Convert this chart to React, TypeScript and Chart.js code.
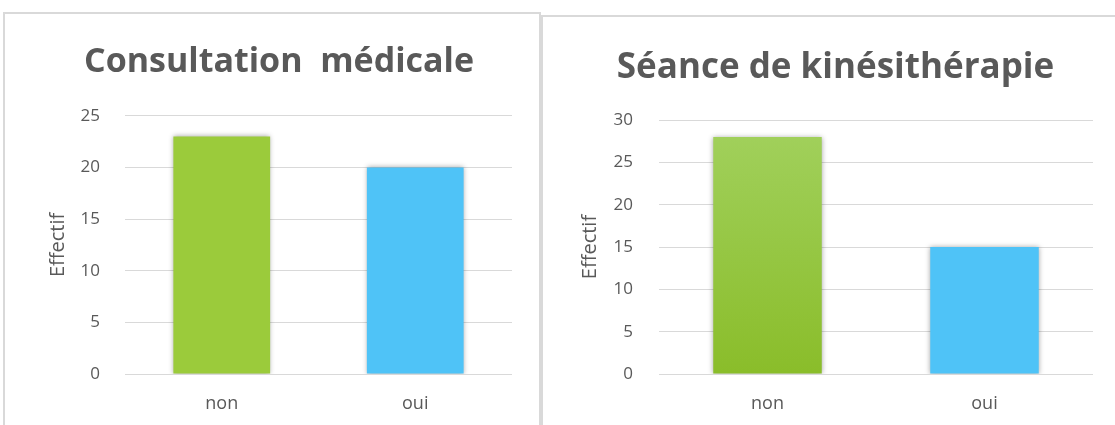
import React, { useEffect, useRef } from "react";
import { Chart, registerables } from "chart.js";

Chart.register(...registerables);

const leftTitle = "Consultation  médicale";
const leftCategories = ["non", "oui"];
const leftValues = [23, 20];
const leftMax = 25;

const rightTitle = "Séance de kinésithérapie";
const rightCategories = ["non", "oui"];
const rightValues = [28, 15];
const rightMax = 30;

const yAxisTitle = "Effectif";
const tickStep = 5;

const FONT = "'Open Sans', 'Noto Sans', sans-serif";
const TEXT = "#595959";
const GRID = "#D9D9D9";
const BORDER = "#D9D9D9";

type PanelProps = {
  title: string;
  categories: string[];
  values: number[];
  max: number;
  width: number;
  height: number;
  padLeft: number;
  padRight: number;
  yAxisWidth: number;
  tickPad: number;
  titleSize: number;
  titleTop: number;
  titleBottom: number;
  gradient: boolean;
};

const shadowPlugin = {
  id: "barShadow",
  beforeDatasetsDraw(chart: any) {
    const ctx = chart.ctx;
    ctx.save();
    ctx.shadowColor = "rgba(0,0,0,0.35)";
    ctx.shadowBlur = 5;
    ctx.shadowOffsetX = 0;
    ctx.shadowOffsetY = 0;
  },
  afterDatasetsDraw(chart: any) {
    chart.ctx.restore();
  },
};

function BarPanel(p: PanelProps) {
  const ref = useRef<HTMLCanvasElement | null>(null);
  useEffect(() => {
    if (!ref.current) return;
    const blue = "#4FC3F7";
    const chart = new Chart(ref.current, {
      type: "bar",
      data: {
        labels: p.categories,
        datasets: [
          {
            data: p.values,
            backgroundColor: (c: any) => {
              if (c.dataIndex === 1) return blue;
              if (!p.gradient) return "#9BCB3B";
              const area = c.chart.chartArea;
              if (!area) return "#96C83A";
              const g = c.chart.ctx.createLinearGradient(0, area.top, 0, area.bottom);
              g.addColorStop(0, "#A2D15E");
              g.addColorStop(1, "#8ABD2A");
              return g;
            },
            borderWidth: 0,
            barPercentage: 1,
            categoryPercentage: 0.5,
          },
        ],
      },
      options: {
        responsive: false,
        animation: false,
        devicePixelRatio: 1,
        layout: {
          padding: { left: p.padLeft, right: p.padRight, top: 0, bottom: 0 },
        },
        plugins: {
          legend: { display: false },
          tooltip: { enabled: false },
          title: {
            display: true,
            text: p.title,
            color: TEXT,
            font: { family: FONT, size: p.titleSize, weight: "bold", lineHeight: 1.2 },
            padding: { top: p.titleTop, bottom: p.titleBottom },
          },
        },
        scales: {
          x: {
            grid: { display: false, drawTicks: false },
            border: { display: false },
            ticks: {
              color: TEXT,
              font: { family: FONT, size: 18 },
              padding: 19,
            },
            afterFit: (s: any) => {
              s.height = 51;
            },
          },
          y: {
            min: 0,
            max: p.max,
            grid: { color: GRID, lineWidth: 1, drawTicks: false },
            border: { display: false },
            ticks: {
              stepSize: tickStep,
              color: TEXT,
              font: { family: FONT, size: 17 },
              padding: p.tickPad,
            },
            title: {
              display: true,
              text: yAxisTitle,
              color: TEXT,
              font: { family: FONT, size: 20 },
              padding: { top: 0, bottom: 0 },
            },
            afterFit: (s: any) => {
              s.width = p.yAxisWidth;
            },
          },
        },
      },
      plugins: [shadowPlugin],
    } as any);
    return () => chart.destroy();
  }, []);
  return <canvas ref={ref} width={p.width} height={p.height} style={{ display: "block" }} />;
}

export default function App() {
  return (
    <div
      style={{
        position: "absolute",
        left: 0,
        top: 0,
        width: 1115,
        height: 425,
        overflow: "hidden",
        background: "#fff",
      }}
    >
      <div
        style={{
          position: "absolute",
          left: 3,
          top: 12,
          width: 538,
          height: 440,
          borderLeft: `2px solid ${BORDER}`,
          borderTop: `2px solid ${BORDER}`,
          borderRight: `2px solid ${BORDER}`,
          boxSizing: "border-box",
        }}
      />
      <div
        style={{
          position: "absolute",
          left: 541,
          top: 15,
          width: 600,
          height: 440,
          borderLeft: `2px solid ${BORDER}`,
          borderTop: `2px solid ${BORDER}`,
          boxSizing: "border-box",
        }}
      />
      <div style={{ position: "absolute", left: 0, top: 0 }}>
        <BarPanel
          title={leftTitle}
          categories={leftCategories}
          values={leftValues}
          max={leftMax}
          width={541}
          height={425}
          padLeft={46}
          padRight={29}
          yAxisWidth={79}
          tickPad={25}
          titleSize={34}
          titleTop={42}
          titleBottom={33}
          gradient={false}
        />
      </div>
      <div style={{ position: "absolute", left: 543, top: 0 }}>
        <BarPanel
          title={rightTitle}
          categories={rightCategories}
          values={rightValues}
          max={rightMax}
          width={572}
          height={425}
          padLeft={35}
          padRight={22}
          yAxisWidth={81}
          tickPad={26}
          titleSize={35}
          titleTop={47}
          titleBottom={31}
          gradient={true}
        />
      </div>
    </div>
  );
}
